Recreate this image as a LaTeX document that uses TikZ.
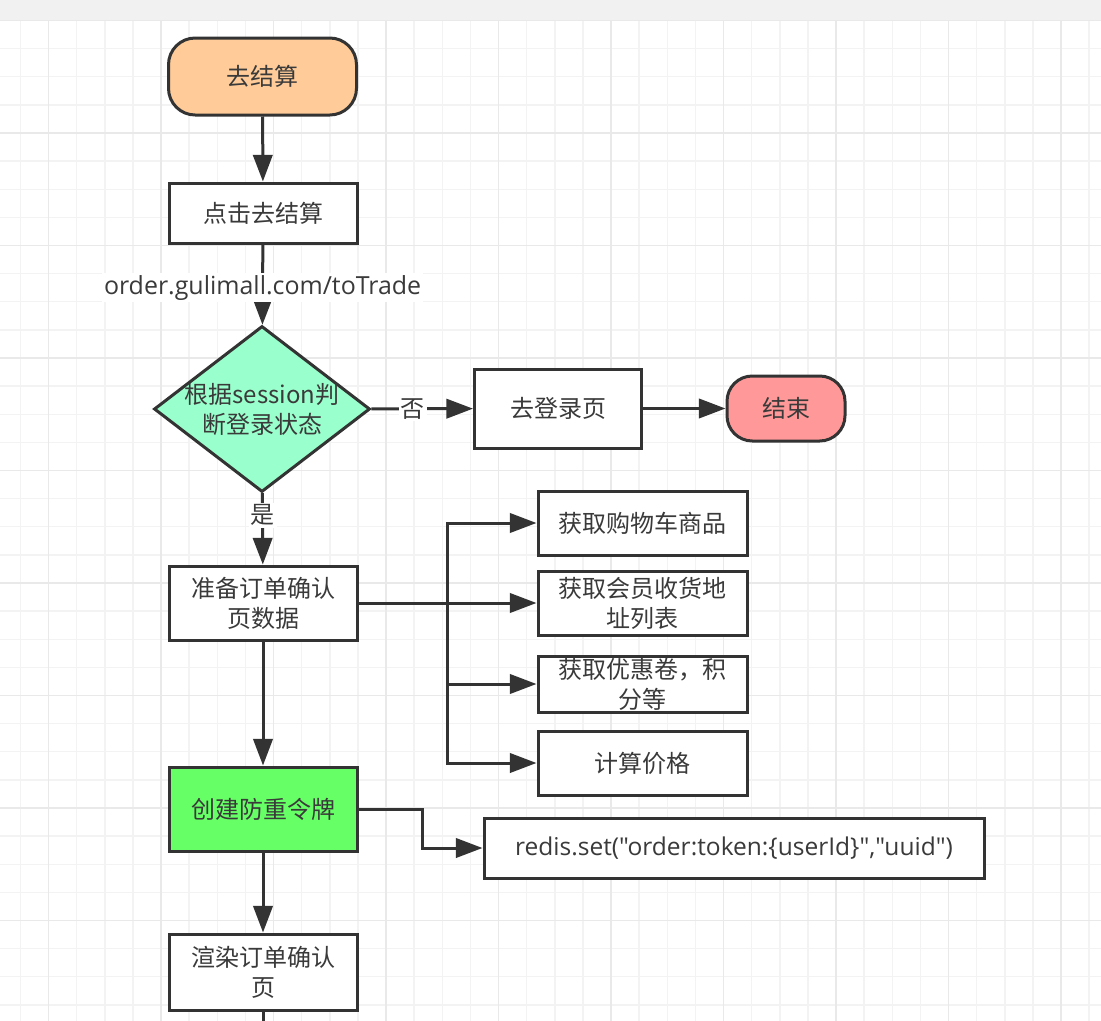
\documentclass[tikz,border=0pt]{standalone}
\usepackage{fontspec}
\setmainfont{Noto Sans CJK SC}
\newfontfamily\latinfont{Open Sans}
\usetikzlibrary{arrows.meta,shapes.geometric}
\definecolor{ln}{HTML}{333333}
\definecolor{txt}{HTML}{3A3A3A}
\definecolor{gridmin}{HTML}{F3F3F3}
\definecolor{gridmaj}{HTML}{E9E9E9}
\definecolor{topband}{HTML}{F1F1F1}
\definecolor{peach}{HTML}{FFCC99}
\definecolor{pinkred}{HTML}{FF9999}
\definecolor{mint}{HTML}{99FFCC}
\definecolor{brightgreen}{HTML}{66FF66}
\tikzset{
  gridminor/.style={draw=gridmin, line width=1.1pt},
  gridmajor/.style={draw=gridmaj, line width=1.1pt},
  base/.style={draw=ln, line width=2.25pt, text=txt, inner sep=0pt, align=center,
    font=\fontsize{18pt}{22.5pt}\selectfont},
  procbox/.style={base, rectangle, fill=white},
  termbox/.style={base, rectangle, rounded corners=20pt},
  decbox/.style={base, diamond, fill=mint},
  conn/.style={draw=ln, line width=2.25pt},
  arr/.style={conn, -{Triangle[length=20pt,width=14.5pt]}},
  elabel/.style={fill=white, text=txt, inner sep=1.5pt, font=\fontsize{18pt}{22.5pt}\selectfont}
}
\begin{document}
\begin{tikzpicture}[x=0.75pt,y=-0.75pt]
\useasboundingbox (0,0) rectangle (1101,1021);
\fill[white] (0,0) rectangle (1101,1021);
% grid
\foreach \i in {0,...,38}{
  \draw[gridminor] ({20.4+28.125*\i},20) -- ({20.4+28.125*\i},1021);
}
\foreach \j in {0,...,35}{
  \draw[gridminor] (0,{20.5+28.125*\j}) -- (1101,{20.5+28.125*\j});
}
\foreach \i in {1,5,...,37}{
  \draw[gridmajor] ({20.4+28.125*\i},20) -- ({20.4+28.125*\i},1021);
}
\foreach \j in {0,4,...,32}{
  \draw[gridmajor] (0,{20.5+28.125*\j}) -- (1101,{20.5+28.125*\j});
}
\fill[topband] (0,0) rectangle (1101,19.5);

% nodes
\node[termbox, fill=peach, minimum width=141pt, minimum height=57.75pt] (start) at (262.5,76.5) {去结算};
\node[procbox, minimum width=141pt, minimum height=45pt] (click) at (263,213) {点击去结算};
\node[decbox, minimum width=162pt, minimum height=124.5pt] (dec) at (262,409) {};
\node[text=txt, align=center, inner sep=0pt, font=\fontsize{18pt}{22.5pt}\selectfont] (dectext) at (dec.center) {根据session判\\断登录状态};
\node[procbox, minimum width=125.25pt, minimum height=59.25pt] (login) at (558,408.5) {去登录页};
\node[termbox, fill=pinkred, rounded corners=19pt, minimum width=88.5pt, minimum height=48.75pt] (end) at (786,408.5) {结束};
\node[procbox, minimum width=141pt, minimum height=55.5pt] (prep) at (263,603) {准备订单确认\\页数据};
\node[procbox, minimum width=156.75pt, minimum height=48pt] (b1) at (642.5,523) {获取购物车商品};
\node[procbox, minimum width=156.75pt, minimum height=48pt] (b2) at (642.5,603) {获取会员收货地\\址列表};
\node[procbox, minimum width=156.75pt, minimum height=42pt] (b3) at (642.5,684) {获取优惠卷，积\\分等};
\node[procbox, minimum width=156.75pt, minimum height=48pt] (b4) at (642.5,763) {计算价格};
\node[procbox, fill=brightgreen, minimum width=141pt, minimum height=63pt] (token) at (263,809) {创建防重令牌};
\node[procbox, minimum width=375pt, minimum height=45pt] (redis) at (734,848) {{\latinfont\fontsize{18.4pt}{22pt}\selectfont redis.set("order:token:\{userId\}","uuid")}};
\node[procbox, minimum width=141pt, minimum height=57pt] (render) at (263,972) {渲染订单确认\\页};

\coordinate (tx) at (447,603);
\coordinate (gx) at (422,809);
\coordinate (bot) at (263,1030);

% connectors
\draw[arr] (start) -- (click);
\draw[arr] (click) -- node[elabel, pos=0.54] (url) {\latinfont\fontsize{18.7pt}{22pt}\selectfont order.gulimall.com/toTrade} (dec);
\draw[arr] (dec) -- node[elabel, pos=0.41] (no) {否} (login);
\draw[arr] (login) -- (end);
\draw[arr] (dec) -- node[elabel, pos=0.31] (yes) {是} (prep);
\draw[arr] (prep) -- (b2);
\draw[arr] (tx) |- (b1.west);
\draw[arr] (tx) |- (b3.west);
\draw[arr] (tx) |- (b4.west);
\draw[arr] (prep) -- (token);
\draw[arr] (token.east) -| (gx |- redis.west) -- (redis.west);
\draw[arr] (token) -- (render);
\draw[conn] (render) -- (bot);
\end{tikzpicture}
\end{document}
